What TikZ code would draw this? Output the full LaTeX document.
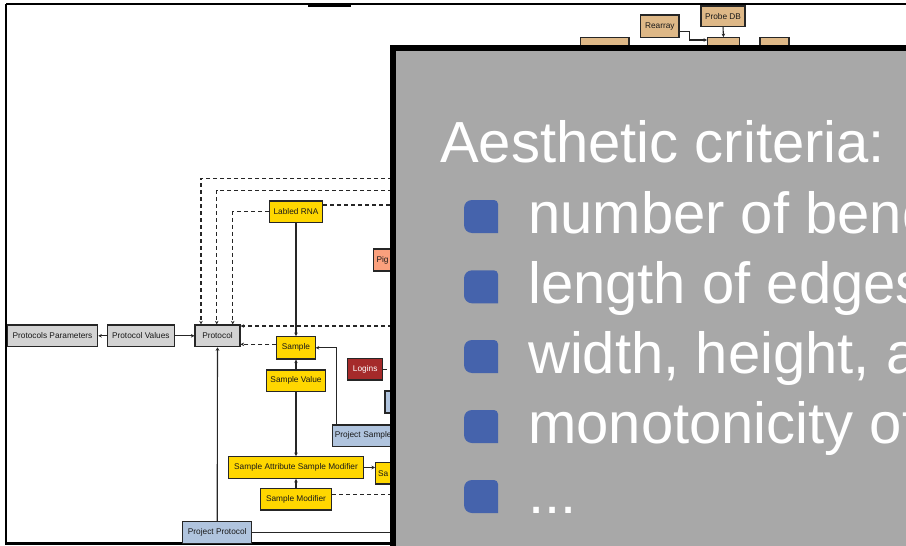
\documentclass[tikz,border=0pt]{standalone}
\usepackage{fontspec}
\setmainfont{Liberation Sans}
\newfontfamily\nodefont{Liberation Sans}
\usetikzlibrary{arrows.meta}
\definecolor{goldc}{RGB}{255,215,0}
\definecolor{greyc}{RGB}{211,211,211}
\definecolor{steelc}{RGB}{176,196,222}
\definecolor{tanc}{RGB}{222,184,135}
\definecolor{salmonc}{RGB}{250,160,125}
\definecolor{brownc}{RGB}{165,42,42}
\definecolor{panelc}{RGB}{168,168,168}
\definecolor{bulletc}{RGB}{69,99,172}
\tikzset{
  box/.style={draw=black!85, line width=1.2pt, inner sep=1pt, font=\nodefont\fontsize{8.3}{9}\selectfont, text=black!90},
  lbox/.style={box, align=left, anchor=west},
  conn/.style={draw=black!85, line width=1.1pt, -{Stealth[length=3.5pt,width=3.5pt]}},
  plain/.style={draw=black!85, line width=1.1pt},
  dconn/.style={conn, dash pattern=on 4pt off 3pt},
  dplain/.style={plain, dash pattern=on 4pt off 3pt},
  bigtext/.style={text=white, font=\fontsize{58}{70}\selectfont, inner sep=0pt, anchor=base west},
  bul/.style={fill=bulletc}
}
\begin{document}
\begin{tikzpicture}[x=1pt,y=-1pt]
\useasboundingbox (0,0) rectangle (906,546);
\clip (0,0) rectangle (906,546);
\fill[white] (0,0) rectangle (906,546);
% outer frame
\draw[line width=2.5pt] (6,4) -- (1000,4);
\draw[line width=2.5pt] (6,4) -- (6,543);
\draw[line width=3pt] (4.75,543) -- (1000,543);
\draw[line width=2.5pt] (308,5.5) -- (351,5.5);

% nodes
\node[box, fill=greyc, minimum width=90.4, minimum height=21.7] (pp) at (52.5,335.8) {Protocols Parameters};
\node[box, fill=greyc, minimum width=67, minimum height=21.7] (pv) at (140.8,335.8) {Protocol Values};
\node[box, fill=greyc, minimum width=45, minimum height=21.7] (prot) at (217.5,335.8) {Protocol};
\node[box, fill=goldc, minimum width=53.7, minimum height=21.7] (rna) at (296,211.8) {Labled RNA};
\node[box, fill=goldc, minimum width=38.3, minimum height=22.3] (samp) at (296,347.8) {Sample};
\node[box, fill=goldc, minimum width=59, minimum height=21.7] (sv) at (296,380.8) {Sample Value};
\node[box, fill=goldc, minimum width=134.3, minimum height=21.7] (sasm) at (296,467.5) {Sample Attribute Sample Modifier};
\node[box, fill=goldc, minimum width=71, minimum height=21.7] (sm) at (296,499.2) {Sample Modifier};
\node[box, fill=brownc, text=white, minimum width=35, minimum height=21.7] (logins) at (365.2,369.2) {Logins};
\node[box, fill=steelc, minimum width=69, minimum height=21.7] (pprot) at (217.2,532.5) {Project Protocol};
\node[lbox, fill=salmonc, minimum height=22, inner xsep=3pt, text width=51] (pig) at (373,260) {Pig};
\node[lbox, fill=steelc, minimum height=21.7, inner xsep=2.5pt, text width=90] (psamp) at (331.7,435.8) {Project Sample};
\node[lbox, fill=goldc, minimum height=21.3, inner xsep=2.5pt, text width=50] (sa) at (375,473.3) {Sa};
\node[box, fill=steelc, minimum width=40, minimum height=22] (pbox) at (405,402) {};
\node[box, fill=tanc, minimum width=38.3, minimum height=22.7] (rearray) at (659.8,26.3) {Rearray};
\node[box, fill=tanc, minimum width=44, minimum height=20.7] (probedb) at (723,16.3) {Probe DB};
\node[box, fill=tanc, minimum width=31.6, minimum height=22] (probe) at (723.5,48.7) {};
\node[box, fill=tanc, minimum width=48.3, minimum height=22] (tl) at (604.8,48.7) {};
\node[box, fill=tanc, minimum width=29, minimum height=22] (tr) at (774.5,48.7) {};

% hidden end points (under the panel)
\coordinate (h1) at (420,178.3);
\coordinate (h2) at (420,190.7);
\coordinate (h3) at (420,205);
\coordinate (h4) at (420,326);
\coordinate (h5) at (420,369.2);
\coordinate (h6) at (420,494.3);
\coordinate (h7) at (420,532.3);

% solid connectors
\draw[conn] (pv.west) -- (pp.east);
\draw[conn] (pv.east) -- (prot.west);
\draw[conn] (rna.south) -- (samp.north);
\draw[conn] (sv.north) -- (samp.south);
\draw[conn] (sv.south) -- (sasm.north);
\draw[conn] (sm.north) -- (sasm.south);
\draw[conn] (sasm.east) -- (sa.west |- sasm.east);
\draw[conn] ([xshift=5pt]psamp.north west) |- (samp.east);
\draw[conn] (pprot.north) -- (prot.south);
\draw[plain] (pprot.east |- h7) -- (h7);
\draw[conn] (probedb.south) -- (probe.north);
\draw[conn] ([yshift=-5.4pt]rearray.east) -- ++(10,0) |- ([yshift=8.7pt]probe.west);

% dashed connectors
\draw[dconn] (h1) -| ([xshift=-16.5pt]prot.north);
\draw[dconn] (h2) -| ([xshift=-0.8pt]prot.north);
\draw[dconn] (rna.west) -| ([xshift=15.2pt]prot.north);
\draw[dplain] ([yshift=6.8pt]rna.east) -- (h3);
\draw[dconn] (h4) -- (prot.east |- h4);
\draw[dconn] ([yshift=3.5pt]samp.west) -- ([yshift=3.5pt]prot.east |- samp.west);
\draw[dplain] (logins.east) -- (h5);
\draw[dplain] (sm.east |- h6) -- (h6);

% overlay panel
\draw[line width=6pt, fill=panelc] (393,48.3) rectangle (1000,1000);
\node[bigtext] (title) at (440,162) {Aesthetic criteria:};
\foreach \b/\t [count=\i] in {233/{number of bend}, 303.3/{length of edges}, 373/{width, height, a}, 443/{monotonicity of}, 513/{...}} {
  \fill[bul] (498,\b) -- (472,\b) [rounded corners=8pt] -- (464,\b) -- (464,\b-33) [rounded corners=4pt] -- (498,\b-33) [sharp corners] -- (498,\b) -- cycle;
  \node[bigtext] (item\i) at (528,\b) {\t};
}
\end{tikzpicture}
\end{document}
